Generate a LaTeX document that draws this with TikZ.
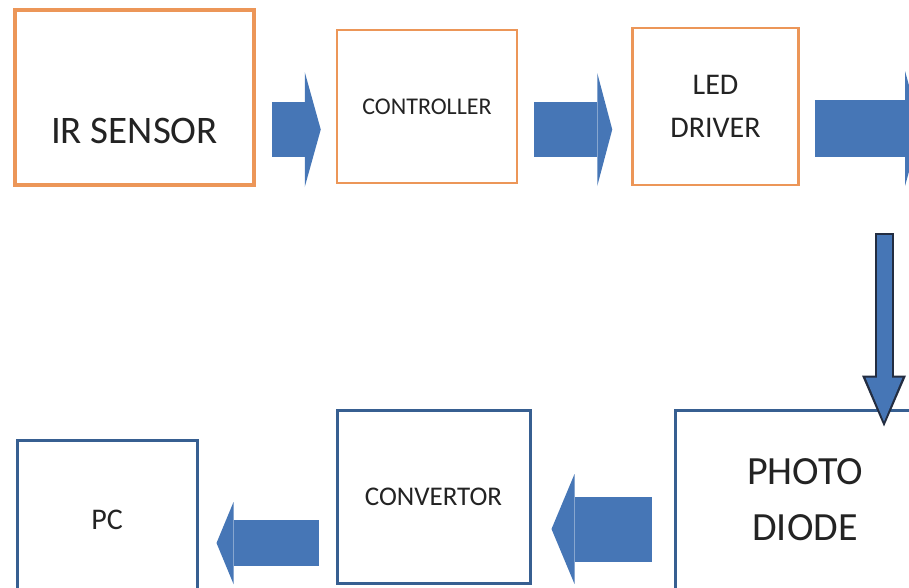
\documentclass[tikz,border=0pt]{standalone}
\usepackage{fontspec}
\setmainfont{Carlito}
\usetikzlibrary{arrows.meta,positioning,calc}
\definecolor{boxorange}{RGB}{236,150,88}
\definecolor{boxblue}{RGB}{55,95,145}
\definecolor{arrowblue}{RGB}{70,118,182}
\definecolor{arrowedge}{RGB}{35,45,65}
\definecolor{textgray}{RGB}{35,35,35}

\begin{document}
\begin{tikzpicture}[
    x=1pt, y=-1pt,
    obox/.style={rectangle, draw=boxorange, line width=2.5pt, fill=white, text=textgray, align=center},
    bbox/.style={rectangle, draw=boxblue, line width=3pt, fill=white, text=textgray, align=center},
    barrow/.style n args={3}{draw=arrowblue, line width=#1, -{Triangle[width=#2,length=#3,line width=0pt]}},
    darrow/.style={draw=arrowedge, line width=19pt, -{Triangle[width=44pt,length=51pt,line width=0pt]},
      postaction={draw=arrowblue, line width=15pt, shorten <=2pt, shorten >=5pt, -{Triangle[width=37pt,length=44pt,line width=0pt]}}}
  ]
  \clip (0,0) rectangle (909,587);

  % top row
  \node[obox, line width=3.5pt, minimum width=239pt, minimum height=175pt,
    label={[font=\fontsize{39}{44}\selectfont, text=textgray, yshift=-33pt]center:IR SENSOR}] (ir) at (134.5,97.5) {};
  \node[obox, minimum width=180pt, minimum height=153pt, right=80pt of ir, yshift=-9pt,
    font=\fontsize{24}{28}\selectfont] (ctrl) {CONTROLLER};
  \node[obox, minimum width=166pt, minimum height=157pt, right=113pt of ctrl,
    font=\fontsize{30}{43}\selectfont] (led) {LED\\DRIVER};

  % bottom row
  \node[bbox, minimum width=260pt, minimum height=180pt,
    font=\fontsize{40}{56}\selectfont] (pd) at (805,500) {PHOTO\\DIODE};
  \node[bbox, minimum width=193pt, minimum height=173pt, left=142pt of pd, yshift=3.5pt,
    font=\fontsize{27}{32}\selectfont] (conv) {CONVERTOR};
  \node[bbox, minimum width=180pt, minimum height=160pt, left=137pt of conv, yshift=-23.5pt,
    font=\fontsize{30}{36}\selectfont] (pc) {PC};

  \coordinate (edge) at (921,128.5);
  \coordinate (drop) at (884,233);

  \draw[barrow={55pt}{115pt}{16pt}, shorten <=16pt, shorten >=15pt] ([yshift=-32pt]ir.east) -- ([yshift=-32pt]ir.east -| ctrl.west);
  \draw[barrow={55pt}{113pt}{15pt}, shorten <=16pt, shorten >=19pt] ([yshift=-23pt]ctrl.east) -- ([yshift=-23pt]led.west);
  \draw[barrow={57pt}{115pt}{16pt}, shorten <=15pt] ([yshift=-22pt]led.east) -- (edge);
  \draw[darrow] (drop) -- ([yshift=-18pt]pd.north -| drop);
  \draw[barrow={65pt}{110pt}{23pt}, shorten <=22pt, shorten >=20pt] ([yshift=-29pt]pd.west) -- ([yshift=-29pt]pd.west -| conv.east);
  \draw[barrow={46pt}{82pt}{17pt}, shorten <=17pt, shorten >=18pt] ([yshift=-46.5pt]conv.west) -- ([yshift=-46.5pt]conv.west -| pc.east);
\end{tikzpicture}
\end{document}
